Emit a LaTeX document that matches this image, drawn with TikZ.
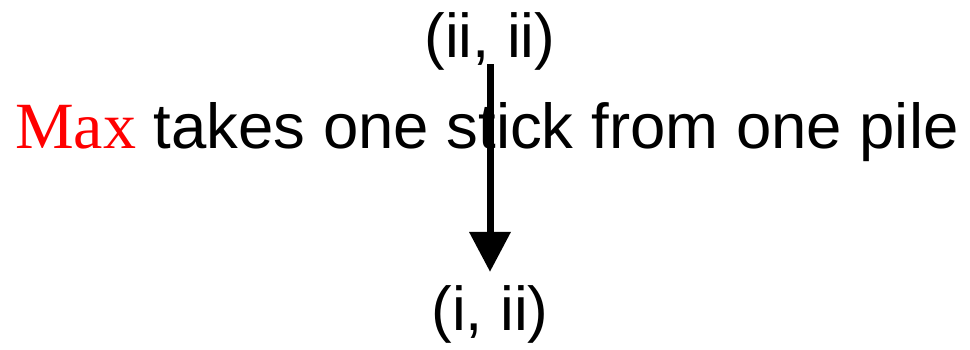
\documentclass[tikz,border=0pt]{standalone}
\usepackage{fontspec}
\setmainfont{Liberation Sans}
\newfontfamily\maxfont{Liberation Serif}
\usetikzlibrary{arrows.meta, positioning}

\begin{document}
\begin{tikzpicture}[
    x=1pt, y=1pt,
    every node/.style={font=\fontsize{62}{70}\selectfont, inner sep=0pt},
    st/.style={anchor=base},
    a/.style={-{Triangle[length=40pt, width=40pt]}, line width=7pt}
]
\useasboundingbox (0,0) rectangle (970,-349);
% states
\node[st] (top) at (490,-57)  {(ii, ii)};
\node[st] (bot) at (490,-330) {(i, ii)};
% move label
\node[anchor=base west, font=\fontsize{63.5}{70}\selectfont] (move) at (15,-148)
  {{\maxfont\fontsize{66}{70}\selectfont\color{red}Max} takes one stick from one pile};
\draw[a, shorten <=-6pt, shorten >=13pt] (top.south) -- (bot.north);
\end{tikzpicture}
\end{document}
